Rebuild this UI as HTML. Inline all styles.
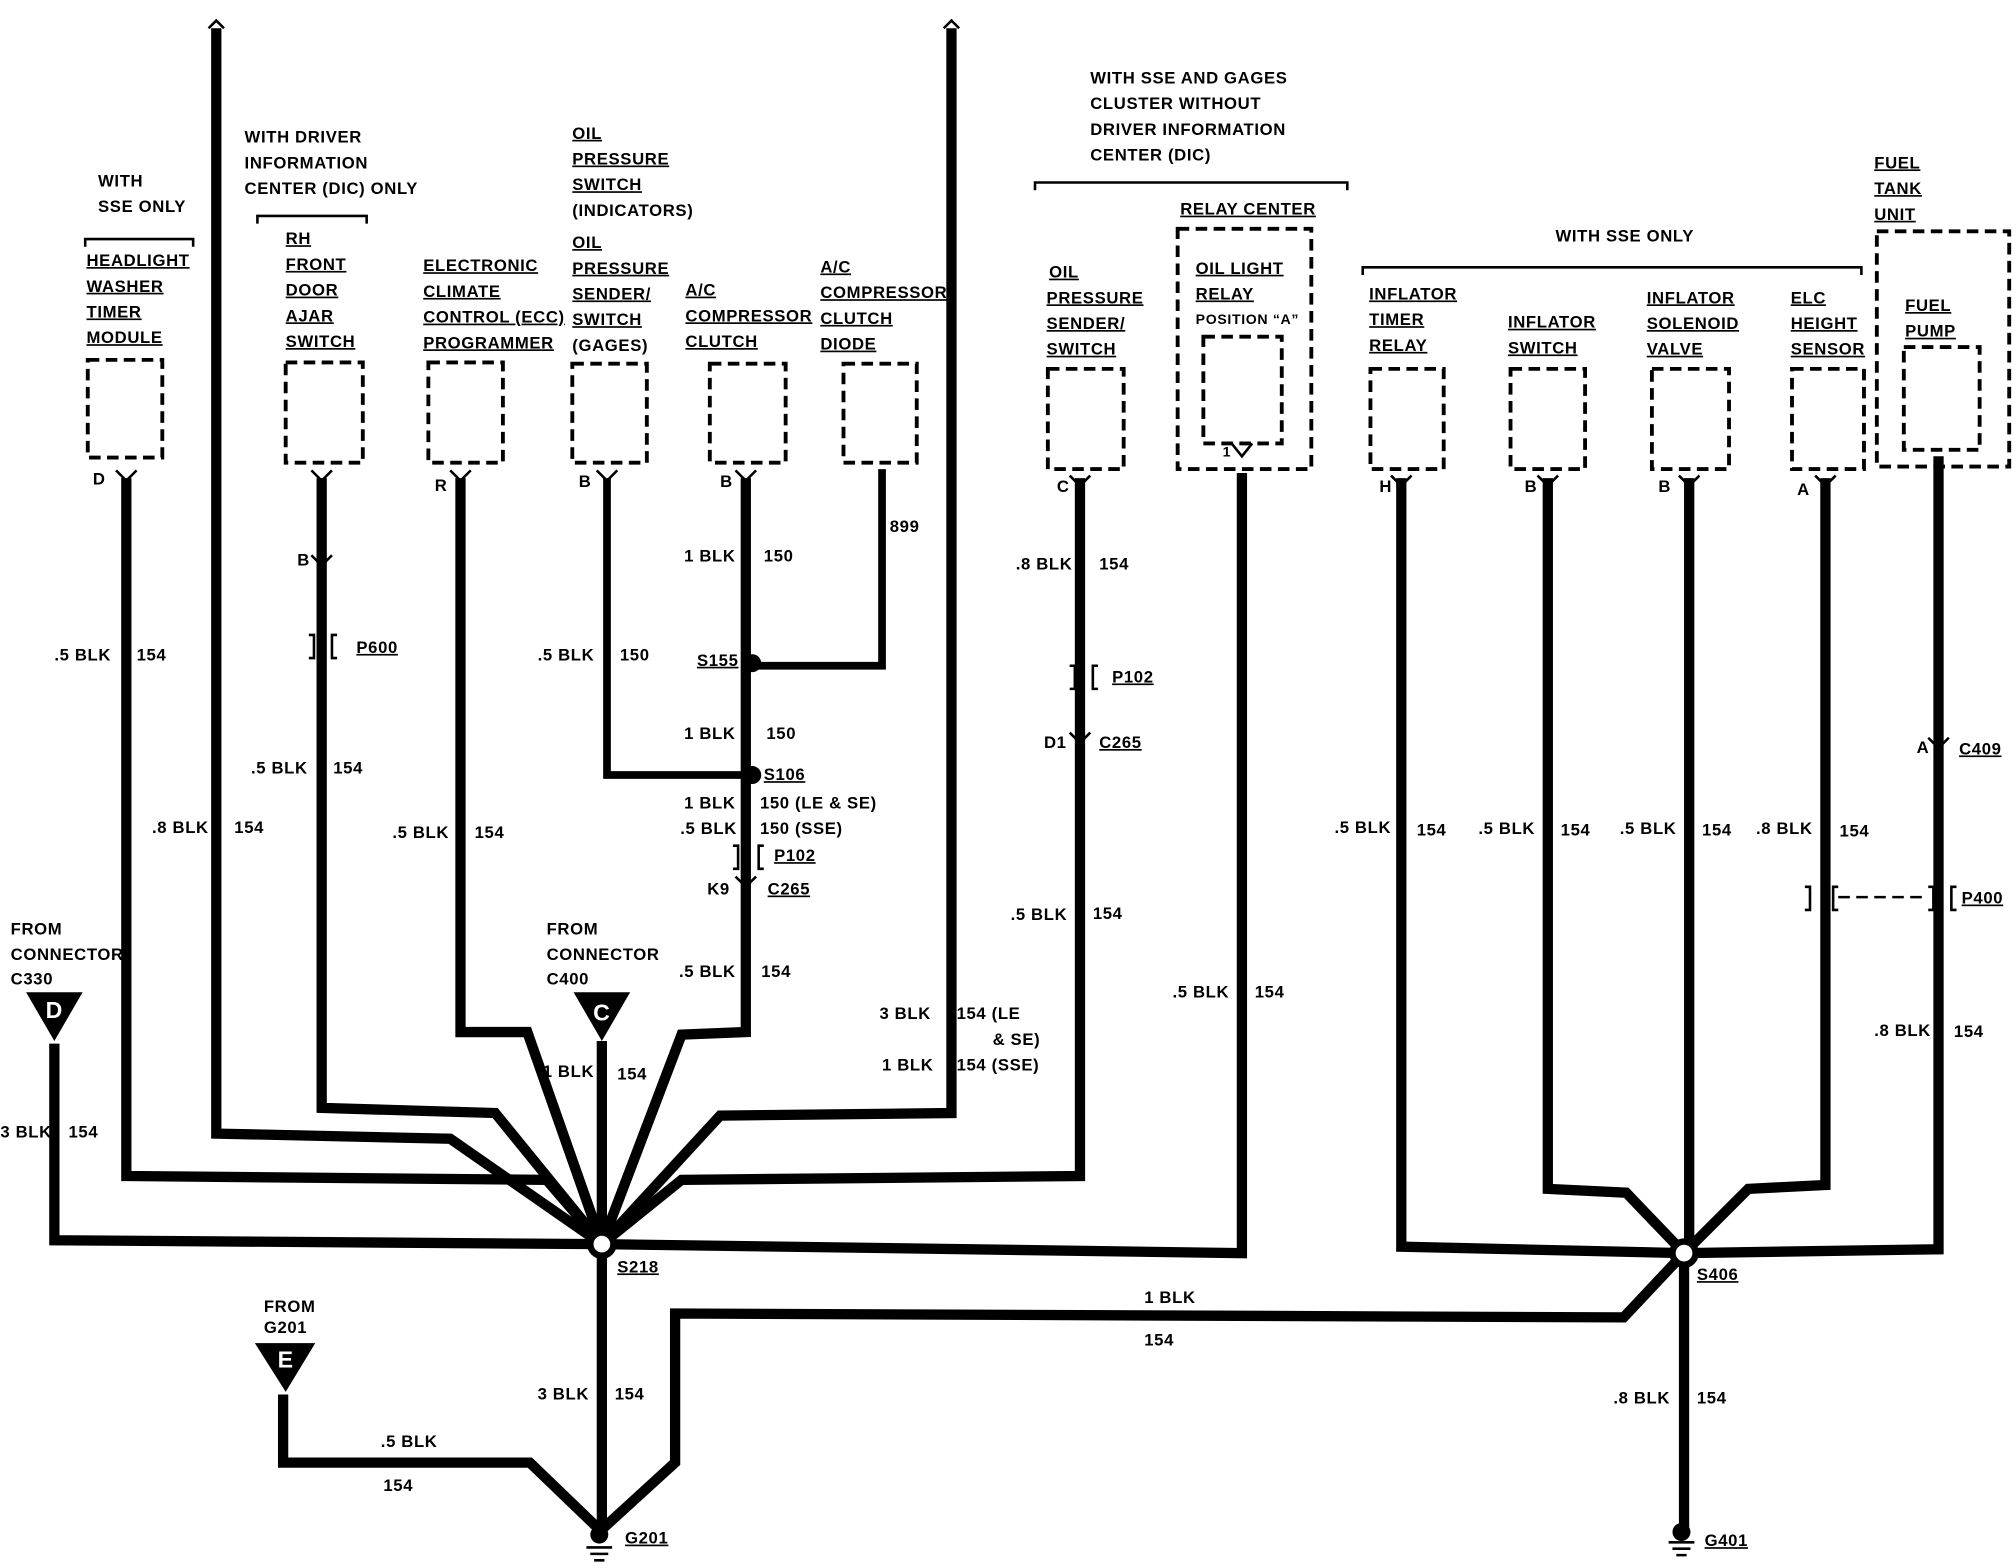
<!DOCTYPE html>
<html><head><meta charset="utf-8"><style>
html,body{margin:0;padding:0;background:#fff;width:2016px;height:1568px;overflow:hidden}
svg{display:block}
text{font-family:"Liberation Sans",sans-serif;font-weight:bold;font-size:13px;letter-spacing:0.5px;fill:#000}
.u{text-decoration:underline}
</style></head><body>
<svg width="2016" height="1568" viewBox="0 0 1568 1220" xmlns="http://www.w3.org/2000/svg">
<g fill="none" stroke="#000" stroke-width="8" stroke-linejoin="miter">
<polyline points="168,22 168,882 350,886 468,968"/>
<polyline points="98,372 98,915 425,918 468,968"/>
<polyline points="42,812 42,965 468,968"/>
<polyline points="250,372 250,862 385,866 468,968"/>
<polyline points="358,372 358,803 410,803 468,968"/>
<polyline points="468,810 468,968"/>
<polyline points="580,372 580,803 530,805 468,968"/>
<polyline points="740,22 740,866 560,868 468,968"/>
<polyline points="840,372 840,915 530,918 468,968"/>
<polyline points="966,368 966,975 468,968"/>
<polyline points="468,968 468,1192"/>
<polyline points="1310,975 1263,1025 525,1022 525,1138 468,1190"/>
<polyline points="220,1085 220,1138 412,1138 466,1190"/>
<polyline points="1090,372 1090,970 1310,975"/>
<polyline points="1204,372 1204,925 1265,928 1310,975"/>
<polyline points="1314,372 1314,975"/>
<polyline points="1420,372 1420,922 1360,925 1310,975"/>
<polyline points="1508,355 1508,972 1310,975"/>
<polyline points="1310,975 1310,1190"/>
<polyline stroke-width="6" points="472,372 472,603 580,603"/>
<polyline stroke-width="6" points="686,365 686,518 580,518"/>
</g>
<g fill="none" stroke="#000" stroke-width="3" stroke-dasharray="9,5">
<rect x="68" y="280" width="58" height="76"/>
<rect x="222" y="282" width="60" height="78"/>
<rect x="333" y="282" width="58" height="78"/>
<rect x="445" y="283" width="58" height="77"/>
<rect x="552" y="283" width="59" height="77"/>
<rect x="656" y="283" width="57" height="77"/>
<rect x="815" y="287" width="59" height="78"/>
<rect x="916" y="178" width="104" height="187"/>
<rect x="936" y="262" width="61" height="83"/>
<rect x="1066" y="287" width="57" height="78"/>
<rect x="1175" y="287" width="58" height="78"/>
<rect x="1285" y="287" width="60" height="78"/>
<rect x="1394" y="287" width="56" height="78"/>
<rect x="1460" y="180" width="103" height="183"/>
<rect x="1481" y="270" width="59" height="80"/>
<line x1="1430" y1="698" x2="1500" y2="698" stroke-width="2"/>
</g>
<g fill="none" stroke="#000" stroke-width="2">
<polyline points="66,192 66,186 150,186 150,192"/>
<polyline points="200,174 200,168 285,168 285,174"/>
<polyline points="805,148 805,142 1048,142 1048,148"/>
<polyline points="1060,214 1060,208 1448,208 1448,214"/>
<polyline points="162,22 168,16 174,22"/><polyline points="734,22 740,16 746,22"/>
<path d="M90,366 l8,8 l8,-8 M242,366 l8,8 l8,-8 M350,366 l8,8 l8,-8 M464,366 l8,8 l8,-8 M572,366 l8,8 l8,-8 M832,370 l8,8 l8,-8 M958,345 l8,10 l8,-10 M1082,370 l8,8 l8,-8 M1196,370 l8,8 l8,-8 M1306,370 l8,8 l8,-8 M1412,370 l8,8 l8,-8"/>
<path d="M242,432 l8,8 l8,-8 M572,682 l8,8 l8,-8 M832,570 l8,8 l8,-8 M1500,574 l8,8 l8,-8"/>
<path d="M240,494 h4 v18 h-4 M262,494 h-4 v18 h4 M832,518 h4 v18 h-4 M854,518 h-4 v18 h4 M570,658 h4 v18 h-4 M594,658 h-4 v18 h4 M1404,690 h4 v18 h-4 M1430,690 h-4 v18 h4 M1500,690 h4 v18 h-4 M1522,690 h-4 v18 h4"/>
<path d="M456,1204 h20 M459,1209 h14 M462,1214 h8 M1298,1200 h20 M1301,1205 h14 M1304,1210 h8"/>
</g>
<g fill="#000">
<polygon points="20,772 64,772 42,810"/><polygon points="446,772 490,772 468,810"/><polygon points="198,1045 245,1045 222,1083"/>
<circle cx="585" cy="516" r="7"/><circle cx="585" cy="603" r="7"/>
<circle cx="466" cy="1194" r="7"/><circle cx="1308" cy="1192" r="7"/>
</g>
<circle cx="468" cy="968" r="9" fill="#fff" stroke="#000" stroke-width="5"/>
<circle cx="1310" cy="975" r="9" fill="#fff" stroke="#000" stroke-width="5"/>
<g text-anchor="middle">
<text x="42" y="792" style="fill:#fff;font-size:18px">D</text>
<text x="468" y="794" style="fill:#fff;font-size:18px">C</text>
<text x="222" y="1064" style="fill:#fff;font-size:18px">E</text>
</g>
<text x="76" y="145">WITH</text><text x="76" y="165">SSE ONLY</text>
<text x="67" y="207" class="u">HEADLIGHT</text><text x="67" y="227" class="u">WASHER</text><text x="67" y="247" class="u">TIMER</text><text x="67" y="267" class="u">MODULE</text>
<text x="190" y="111">WITH DRIVER</text><text x="190" y="131">INFORMATION</text><text x="190" y="151">CENTER (DIC) ONLY</text>
<text x="222" y="190" class="u">RH</text><text x="222" y="210" class="u">FRONT</text><text x="222" y="230" class="u">DOOR</text><text x="222" y="250" class="u">AJAR</text><text x="222" y="270" class="u">SWITCH</text>
<text x="329" y="211" class="u">ELECTRONIC</text><text x="329" y="231" class="u">CLIMATE</text><text x="329" y="251" class="u">CONTROL (ECC)</text><text x="329" y="271" class="u">PROGRAMMER</text>
<text x="445" y="108" class="u">OIL</text><text x="445" y="128" class="u">PRESSURE</text><text x="445" y="148" class="u">SWITCH</text><text x="445" y="168">(INDICATORS)</text>
<text x="445" y="193" class="u">OIL</text><text x="445" y="213" class="u">PRESSURE</text><text x="445" y="233" class="u">SENDER/</text><text x="445" y="253" class="u">SWITCH</text><text x="445" y="273">(GAGES)</text>
<text x="533" y="230" class="u">A/C</text><text x="533" y="250" class="u">COMPRESSOR</text><text x="533" y="270" class="u">CLUTCH</text>
<text x="638" y="212" class="u">A/C</text><text x="638" y="232" class="u">COMPRESSOR</text><text x="638" y="252" class="u">CLUTCH</text><text x="638" y="272" class="u">DIODE</text>
<text x="848" y="65">WITH SSE AND GAGES</text><text x="848" y="85">CLUSTER WITHOUT</text><text x="848" y="105">DRIVER INFORMATION</text><text x="848" y="125">CENTER (DIC)</text>
<text x="918" y="167" class="u">RELAY CENTER</text>
<text x="930" y="213" class="u">OIL LIGHT</text><text x="930" y="233" class="u">RELAY</text><text x="930" y="252" style="font-size:11px">POSITION “A”</text>
<text x="816" y="216" class="u">OIL</text><text x="814" y="236" class="u">PRESSURE</text><text x="814" y="256" class="u">SENDER/</text><text x="814" y="276" class="u">SWITCH</text>
<text x="1210" y="188">WITH SSE ONLY</text>
<text x="1065" y="233" class="u">INFLATOR</text><text x="1065" y="253" class="u">TIMER</text><text x="1065" y="273" class="u">RELAY</text>
<text x="1173" y="255" class="u">INFLATOR</text><text x="1173" y="275" class="u">SWITCH</text>
<text x="1281" y="236" class="u">INFLATOR</text><text x="1281" y="256" class="u">SOLENOID</text><text x="1281" y="276" class="u">VALVE</text>
<text x="1393" y="236" class="u">ELC</text><text x="1393" y="256" class="u">HEIGHT</text><text x="1393" y="276" class="u">SENSOR</text>
<text x="1458" y="131" class="u">FUEL</text><text x="1458" y="151" class="u">TANK</text><text x="1458" y="171" class="u">UNIT</text>
<text x="1482" y="242" class="u">FUEL</text><text x="1482" y="262" class="u">PUMP</text>
<text x="72" y="377">D</text><text x="231" y="440">B</text><text x="338" y="382">R</text><text x="450" y="379">B</text><text x="560" y="379">B</text>
<text x="822" y="383">C</text><text x="951" y="355" style="font-size:11px">1</text><text x="1073" y="383">H</text><text x="1186" y="383">B</text><text x="1290" y="383">B</text><text x="1398" y="385">A</text>
<text x="42" y="514">.5 BLK</text><text x="106" y="514">154</text>
<text x="195" y="602">.5 BLK</text><text x="259" y="602">154</text>
<text x="118" y="648">.8 BLK</text><text x="182" y="648">154</text>
<text x="305" y="652">.5 BLK</text><text x="369" y="652">154</text>
<text x="277" y="508" class="u">P600</text>
<text x="418" y="514">.5 BLK</text><text x="482" y="514">150</text>
<text x="532" y="437">1 BLK</text><text x="594" y="437">150</text>
<text x="692" y="414">899</text>
<text x="542" y="518" class="u">S155</text>
<text x="532" y="575">1 BLK</text><text x="596" y="575">150</text>
<text x="594" y="607" class="u">S106</text>
<text x="532" y="629">1 BLK</text><text x="591" y="629">150 (LE &amp; SE)</text>
<text x="529" y="649">.5 BLK</text><text x="591" y="649">150 (SSE)</text>
<text x="602" y="670" class="u">P102</text>
<text x="550" y="696">K9</text><text x="597" y="696" class="u">C265</text>
<text x="528" y="760">.5 BLK</text><text x="592" y="760">154</text>
<text x="684" y="793">3 BLK</text><text x="744" y="793">154 (LE</text><text x="772" y="813">&amp; SE)</text>
<text x="686" y="833">1 BLK</text><text x="744" y="833">154 (SSE)</text>
<text x="8" y="727">FROM</text><text x="8" y="747">CONNECTOR</text><text x="8" y="766">C330</text>
<text x="425" y="727">FROM</text><text x="425" y="747">CONNECTOR</text><text x="425" y="766">C400</text>
<text x="0" y="885">3 BLK</text><text x="53" y="885">154</text>
<text x="422" y="838">1 BLK</text><text x="480" y="840">154</text>
<text x="480" y="990" class="u">S218</text>
<text x="790" y="443">.8 BLK</text><text x="855" y="443">154</text>
<text x="865" y="531" class="u">P102</text>
<text x="812" y="582">D1</text><text x="855" y="582" class="u">C265</text>
<text x="786" y="716">.5 BLK</text><text x="850" y="715">154</text>
<text x="912" y="776">.5 BLK</text><text x="976" y="776">154</text>
<text x="1038" y="648">.5 BLK</text><text x="1102" y="650">154</text>
<text x="1150" y="649">.5 BLK</text><text x="1214" y="650">154</text>
<text x="1260" y="649">.5 BLK</text><text x="1324" y="650">154</text>
<text x="1366" y="649">.8 BLK</text><text x="1431" y="651">154</text>
<text x="1491" y="586">A</text><text x="1524" y="587" class="u">C409</text>
<text x="1526" y="703" class="u">P400</text>
<text x="1458" y="806">.8 BLK</text><text x="1520" y="807">154</text>
<text x="1320" y="996" class="u">S406</text>
<text x="890" y="1014">1 BLK</text><text x="890" y="1047">154</text>
<text x="205" y="1021">FROM</text><text x="205" y="1037">G201</text>
<text x="418" y="1089">3 BLK</text><text x="478" y="1089">154</text>
<text x="296" y="1126">.5 BLK</text><text x="298" y="1160">154</text>
<text x="486" y="1201" class="u">G201</text>
<text x="1255" y="1092">.8 BLK</text><text x="1320" y="1092">154</text>
<text x="1326" y="1203" class="u">G401</text>
</svg>
</body></html>
